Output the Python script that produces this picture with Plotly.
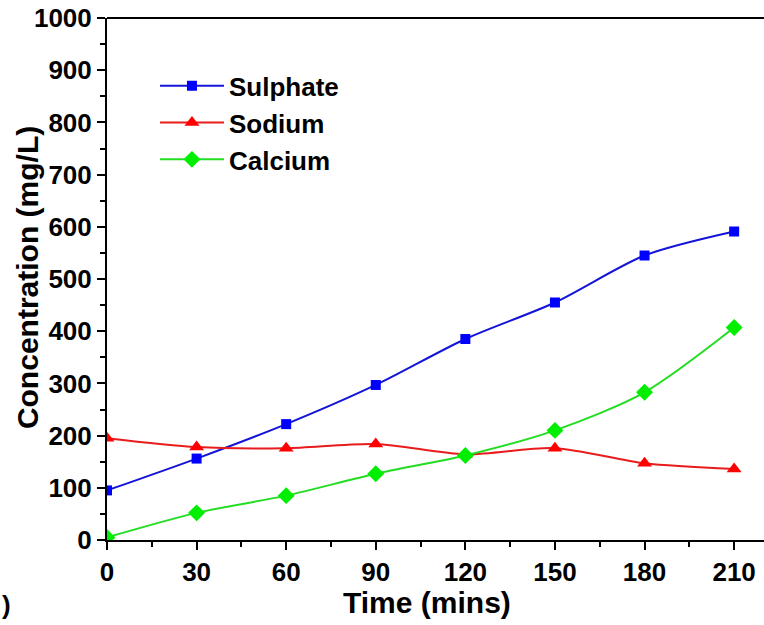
import plotly.graph_objects as go

# Sampling times (mins) and measured concentrations (mg/L)
time_mins = [0, 30, 60, 90, 120, 150, 180, 210]
sulphate = [95, 156, 222, 297, 385, 455, 545, 591]
sodium = [195, 178, 176, 184, 164, 176, 147, 136]
calcium = [5, 52, 85, 127, 162, 210, 283, 407]

x_ticks = [0, 30, 60, 90, 120, 150, 180, 210]
y_ticks = [0, 100, 200, 300, 400, 500, 600, 700, 800, 900, 1000]

FONT = "Liberation Sans, Arial, sans-serif"

series = [
    ("Sulphate", sulphate, "#1414d8", "#0000ff", "square", 10),
    ("Sodium", sodium, "#e81c1c", "#ff0000", "triangle-up", 13),
    ("Calcium", calcium, "#22dd22", "#00ee00", "diamond", 13),
]

fig = go.Figure()
for name, vals, lc, mc, sym, ms in series:
    fig.add_trace(go.Scatter(
        x=time_mins, y=vals, name=name, mode="lines+markers",
        line=dict(color=lc, width=2, shape="spline", smoothing=0.8),
        marker=dict(color=mc, symbol=sym, size=ms),
    ))

axis_common = dict(
    showline=True, linecolor="black", linewidth=2,
    ticks="outside", tickcolor="black", tickwidth=2, ticklen=8,
    showgrid=False, zeroline=False,
    tickfont=dict(family=FONT, size=26, color="black", weight="bold"),
)

fig.update_xaxes(
    range=[0, 220], tickvals=x_ticks,
    minor=dict(dtick=15, tick0=0, ticks="outside", ticklen=5, tickwidth=2, tickcolor="black"),
    **axis_common,
)
fig.update_yaxes(
    range=[0, 1000], tickvals=y_ticks,
    minor=dict(dtick=50, tick0=0, ticks="outside", ticklen=5, tickwidth=2, tickcolor="black"),
    **axis_common,
)

# top border of the frame
fig.add_shape(type="line", xref="paper", yref="paper", x0=0, x1=1, y0=1, y1=1,
              line=dict(color="black", width=2))

title_font = dict(family=FONT, size=30, color="black", weight="bold")
fig.add_annotation(text="Time (mins)", xref="paper", yref="paper", x=0.487, y=-0.12,
                   showarrow=False, xanchor="center", yanchor="middle", font=title_font)
fig.add_annotation(text="Concentration (mg/L)", xref="paper", yref="paper", x=-0.12, y=0.502,
                   textangle=-90, showarrow=False, xanchor="center", yanchor="middle",
                   font=title_font)

fig.add_annotation(text=")", xref="paper", yref="paper", x=-0.163, y=-0.125,
                   showarrow=False, xanchor="left", yanchor="middle",
                   font=dict(family=FONT, size=26, color="black", weight="bold"))

fig.update_layout(
    width=764, height=625,
    margin=dict(l=107, r=0, t=18, b=85),
    plot_bgcolor="white", paper_bgcolor="white",
    showlegend=True,
    legend=dict(x=0.073, y=0.915, xanchor="left", yanchor="top",
                bgcolor="rgba(0,0,0,0)",
                font=dict(family=FONT, size=26, color="black", weight="bold"),
                tracegroupgap=0, itemwidth=64),
)

fig.write_html("out.html")
